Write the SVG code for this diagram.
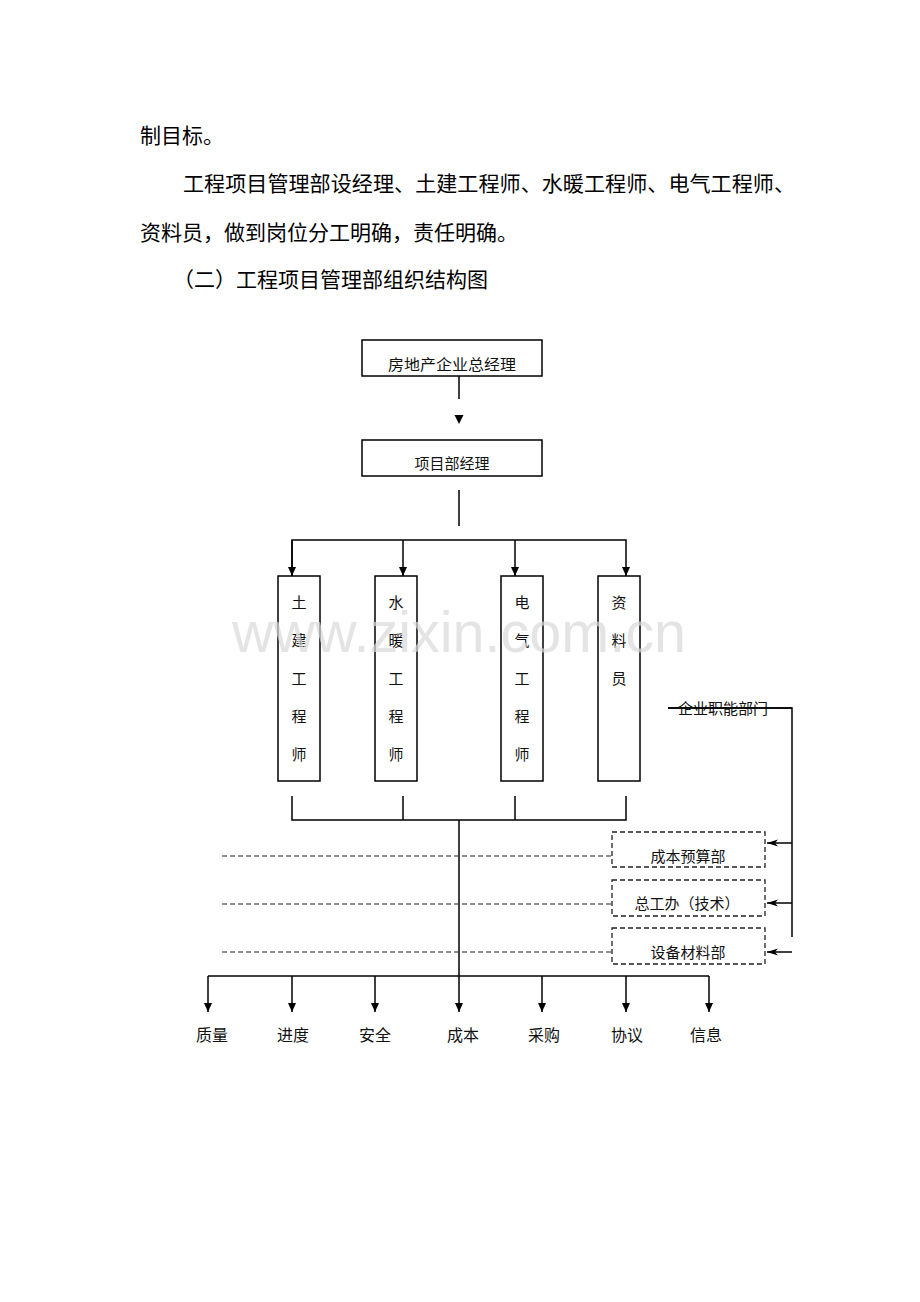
<svg xmlns="http://www.w3.org/2000/svg" width="920" height="1302" viewBox="0 0 920 1302">
<defs>
<style>
.body{font-family:"Liberation Serif","Noto Sans CJK SC",serif;font-size:21px;fill:#000}
.lbl{font-family:"Liberation Serif","Noto Sans CJK SC",serif;font-size:15px;fill:#111}
.bl{font-family:"Liberation Serif","Noto Sans CJK SC",serif;font-size:16px;fill:#111}
.box{fill:#fff;stroke:#000;stroke-width:1.5}
.dbox{fill:#fff;stroke:#222;stroke-width:1.3;stroke-dasharray:5,3}
.ln{stroke:#000;stroke-width:1.5;fill:none}
.dl{stroke:#222;stroke-width:1.2;fill:none;stroke-dasharray:5,3}
.wm{font-family:"Liberation Sans",Arial,sans-serif;font-size:57px;fill:#d8d8d8;fill-opacity:0.7}
</style>
<marker id="ah" markerWidth="10" markerHeight="10" refX="9" refY="5" orient="auto" markerUnits="userSpaceOnUse">
<path d="M0,1 L9,5 L0,9 Z" fill="#000"/>
</marker>
<marker id="ahl" markerWidth="12" markerHeight="10" refX="11" refY="5" orient="auto" markerUnits="userSpaceOnUse">
<path d="M0,1.5 L11,5 L0,8.5 L3,5 Z" fill="#000"/>
</marker>
</defs>
<rect width="920" height="1302" fill="#fff"/>

<g id="intro-text">
<text class="body" x="140" y="143">制目标。</text>
<text class="body" x="183" y="191" textLength="612" lengthAdjust="spacingAndGlyphs">工程项目管理部设经理、土建工程师、水暖工程师、电气工程师、</text>
<text class="body" x="140" y="240">资料员，做到岗位分工明确，责任明确。</text>
<text class="body" x="173" y="287">（二）工程项目管理部组织结构图</text>
</g>

<g id="connectors">
<line class="ln" x1="459" y1="376" x2="459" y2="399"/>
<path d="M454.5,415 L463.5,415 L459,424 Z" fill="#000"/>
<line class="ln" x1="459" y1="490" x2="459" y2="526"/>
<polyline class="ln" points="292,576 292,540 626,540 626,576" marker-end="url(#ah)"/>
<line class="ln" x1="292" y1="540" x2="292" y2="576" marker-end="url(#ah)"/>
<line class="ln" x1="403" y1="540" x2="403" y2="576" marker-end="url(#ah)"/>
<line class="ln" x1="515" y1="540" x2="515" y2="576" marker-end="url(#ah)"/>
<polyline class="ln" points="292,796 292,820 626,820 626,796"/>
<line class="ln" x1="403" y1="796" x2="403" y2="820"/>
<line class="ln" x1="515" y1="796" x2="515" y2="820"/>
<line class="ln" x1="459" y1="820" x2="459" y2="976"/>
<line class="ln" x1="208" y1="976" x2="709" y2="976"/>
<line class="ln" x1="208" y1="976" x2="208" y2="1012" marker-end="url(#ah)"/>
<line class="ln" x1="292" y1="976" x2="292" y2="1012" marker-end="url(#ah)"/>
<line class="ln" x1="375" y1="976" x2="375" y2="1012" marker-end="url(#ah)"/>
<line class="ln" x1="459" y1="976" x2="459" y2="1012" marker-end="url(#ah)"/>
<line class="ln" x1="542" y1="976" x2="542" y2="1012" marker-end="url(#ah)"/>
<line class="ln" x1="626" y1="976" x2="626" y2="1012" marker-end="url(#ah)"/>
<line class="ln" x1="709" y1="976" x2="709" y2="1012" marker-end="url(#ah)"/>
<line class="dl" x1="222" y1="856" x2="612" y2="856"/>
<line class="dl" x1="222" y1="904" x2="612" y2="904"/>
<line class="dl" x1="222" y1="952" x2="612" y2="952"/>
<polyline class="ln" points="668,708 792,708 792,937"/>
<line class="ln" x1="792" y1="843" x2="767" y2="843" marker-end="url(#ahl)"/>
<line class="ln" x1="792" y1="903" x2="767" y2="903" marker-end="url(#ahl)"/>
<line class="ln" x1="792" y1="952" x2="767" y2="952" marker-end="url(#ahl)"/>
</g>

<g id="n-gm">
<rect class="box" x="362" y="340" width="180" height="36"/>
<text class="lbl" x="452" y="370" text-anchor="middle" textLength="128" lengthAdjust="spacingAndGlyphs">房地产企业总经理</text>
</g>
<g id="n-pm">
<rect class="box" x="362" y="440" width="180" height="36"/>
<text class="lbl" x="452" y="469" text-anchor="middle">项目部经理</text>
</g>

<g id="n-civil">
<rect class="box" x="278" y="576" width="42" height="205"/>
<text class="lbl" x="299" y="608" text-anchor="middle">土</text>
<text class="lbl" x="299" y="646" text-anchor="middle">建</text>
<text class="lbl" x="299" y="684" text-anchor="middle">工</text>
<text class="lbl" x="299" y="722" text-anchor="middle">程</text>
<text class="lbl" x="299" y="760" text-anchor="middle">师</text>
</g>
<g id="n-hvac">
<rect class="box" x="375" y="576" width="42" height="205"/>
<text class="lbl" x="396" y="608" text-anchor="middle">水</text>
<text class="lbl" x="396" y="646" text-anchor="middle">暖</text>
<text class="lbl" x="396" y="684" text-anchor="middle">工</text>
<text class="lbl" x="396" y="722" text-anchor="middle">程</text>
<text class="lbl" x="396" y="760" text-anchor="middle">师</text>
</g>
<g id="n-elec">
<rect class="box" x="501" y="576" width="42" height="205"/>
<text class="lbl" x="522" y="608" text-anchor="middle">电</text>
<text class="lbl" x="522" y="646" text-anchor="middle">气</text>
<text class="lbl" x="522" y="684" text-anchor="middle">工</text>
<text class="lbl" x="522" y="722" text-anchor="middle">程</text>
<text class="lbl" x="522" y="760" text-anchor="middle">师</text>
</g>
<g id="n-doc">
<rect class="box" x="598" y="576" width="42" height="205"/>
<text class="lbl" x="619" y="608" text-anchor="middle">资</text>
<text class="lbl" x="619" y="646" text-anchor="middle">料</text>
<text class="lbl" x="619" y="684" text-anchor="middle">员</text>
</g>

<g id="n-func">
<text class="lbl" x="723" y="714" text-anchor="middle">企业职能部门</text>
<line class="ln" x1="668" y1="708" x2="792" y2="708"/>
</g>

<g id="n-cost">
<rect class="dbox" x="612" y="832" width="153" height="35"/>
<text class="lbl" x="688" y="862" text-anchor="middle">成本预算部</text>
</g>
<g id="n-tech">
<rect class="dbox" x="612" y="880" width="153" height="36"/>
<text class="lbl" x="687" y="909" text-anchor="middle">总工办（技术）</text>
</g>
<g id="n-equip">
<rect class="dbox" x="612" y="928" width="153" height="36"/>
<text class="lbl" x="688" y="958" text-anchor="middle">设备材料部</text>
</g>

<g id="bottom-labels">
<text class="bl" x="212" y="1041" text-anchor="middle">质量</text>
<text class="bl" x="293" y="1041" text-anchor="middle">进度</text>
<text class="bl" x="375" y="1041" text-anchor="middle">安全</text>
<text class="bl" x="463" y="1041" text-anchor="middle">成本</text>
<text class="bl" x="544" y="1041" text-anchor="middle">采购</text>
<text class="bl" x="627" y="1041" text-anchor="middle">协议</text>
<text class="bl" x="706" y="1041" text-anchor="middle">信息</text>
</g>

<g id="watermark">
<text class="wm" x="232" y="652" textLength="454" lengthAdjust="spacingAndGlyphs">www.zixin.com.cn</text>
</g>
</svg>
